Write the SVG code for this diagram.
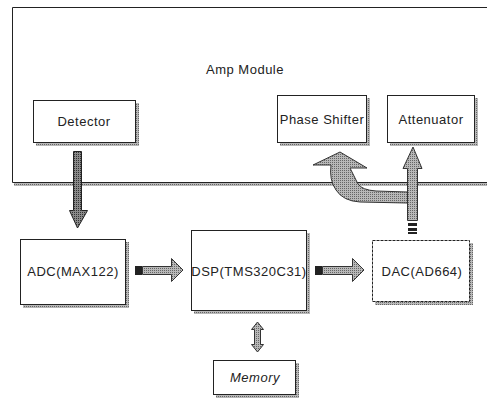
<svg xmlns="http://www.w3.org/2000/svg" width="487" height="403" viewBox="0 0 487 403">
<defs>
<pattern id="dots" width="2" height="2" patternUnits="userSpaceOnUse">
<rect width="2" height="2" fill="#b8b8b8"/>
<rect width="1" height="1" fill="#666"/>
</pattern>
<pattern id="dotsd" width="2" height="2" patternUnits="userSpaceOnUse">
<rect width="2" height="2" fill="#8a8a8a"/>
<rect width="1" height="1" fill="#333"/>
</pattern>
</defs>
<style>
.box{fill:#fff;stroke:#222;stroke-width:1}
.sh{fill:url(#dots)}
.lbl{font-family:"Liberation Sans",Arial,sans-serif;font-size:13px;letter-spacing:0.5px;fill:#222;text-anchor:middle}
.arr{fill:url(#dots);stroke:#333;stroke-width:1;stroke-linejoin:miter}
.arrd{fill:url(#dotsd);stroke:#222;stroke-width:1}
.blk{fill:#222}
</style>
<rect width="487" height="403" fill="#fff"/>
<g id="amp-module">
<rect x="14" y="182" width="473" height="4" class="sh"/>
<path d="M487,7.5 H12.5 V182.5 H487" fill="none" stroke="#222" stroke-width="1"/>
<text x="245" y="74" class="lbl" font-size="15" letter-spacing="1">Amp Module</text>
</g>
<g id="detector">
<rect x="36" y="103" width="103" height="43" class="sh"/>
<rect x="33.5" y="100.5" width="102" height="42" class="box"/>
<text x="84" y="126" class="lbl">Detector</text>
</g>
<g id="phase-shifter">
<rect x="280" y="98" width="90" height="48" class="sh"/>
<rect x="277.5" y="95.5" width="89" height="47" class="box"/>
<text x="322" y="124" class="lbl">Phase Shifter</text>
</g>
<g id="attenuator">
<rect x="390" y="98" width="88" height="48" class="sh"/>
<rect x="387.5" y="95.5" width="87" height="47" class="box"/>
<text x="431" y="124" class="lbl">Attenuator</text>
</g>
<g id="adc">
<rect x="23" y="242" width="106" height="66" class="sh"/>
<rect x="20.5" y="239.5" width="105" height="65" class="box"/>
<text x="73" y="276" class="lbl">ADC(MAX122)</text>
</g>
<g id="dsp">
<rect x="194" y="233" width="116" height="81" class="sh"/>
<rect x="191.5" y="230.5" width="115" height="80" class="box"/>
<text x="249" y="276" class="lbl">DSP(TMS320C31)</text>
</g>
<g id="dac">
<rect x="375" y="243" width="98" height="62" class="sh"/>
<rect x="372.5" y="240.5" width="97" height="61" class="box" stroke-dasharray="3,1"/>
<text x="422" y="276" class="lbl">DAC(AD664)</text>
</g>
<g id="memory">
<rect x="216" y="363" width="83" height="35" class="sh"/>
<rect x="213.5" y="360.5" width="82" height="34" class="box"/>
<text x="255" y="382" class="lbl" font-style="italic">Memory</text>
</g>
<g id="connectors">
<path class="arrd" d="M73.5,151.5 H81.5 V210.5 H87.5 L77.5,228 L69.5,210.5 H73.5 Z"/>
<path class="arr" d="M142.5,266.5 H171.5 V258.5 L183,270 L171.5,281.5 V274.5 H142.5 Z"/>
<rect class="blk" x="135" y="266" width="7" height="9"/>
<path class="arr" d="M322.5,266.5 H352.5 V258.5 L364,270 L352.5,281.5 V274.5 H322.5 Z"/>
<rect class="blk" x="315" y="266" width="7" height="9"/>
<path class="arr" d="M257.5,322 L263.5,329.5 H260.5 V344.5 H263.5 L257.5,352 L251.5,344.5 H254.5 V329.5 H251.5 Z"/>
<path class="arr" d="M407.5,220.5 V168.5 H403 L413,147 L422,168.5 H417.5 V220.5 Z"/>
<rect class="blk" x="408" y="223" width="9" height="3"/>
<rect class="blk" x="408" y="228" width="9" height="3"/>
<rect class="blk" x="408" y="232" width="9" height="2"/>
<path class="arr" d="M407.5,192 L376,191 Q362,190 358,184 L350,168 H367 L340,152 L313,165 H331 Q329,180 336,190 Q343,201 360,202 L407.5,203 Z"/>
</g>
</svg>
